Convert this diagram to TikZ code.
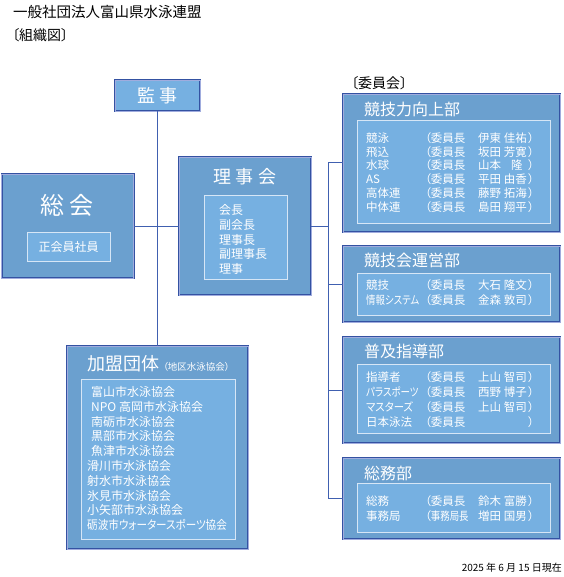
\documentclass[tikz,border=0pt]{standalone}
\usepackage{fontspec}
\setmainfont{Noto Sans CJK JP}[RawFeature=+palt]
\usepackage{graphicx}
\usepackage{tikz}
\usetikzlibrary{positioning,calc}

\definecolor{boxmid}{RGB}{107,160,207}
\definecolor{boxlight}{RGB}{118,176,225}
\definecolor{bdark}{RGB}{52,82,162}
\definecolor{blav}{RGB}{160,172,222}
\definecolor{iedge}{RGB}{214,230,246}
\definecolor{cline}{RGB}{64,96,176}

% one committee line: field, role, name
\newcommand{\memline}[3]{\makebox[59pt][l]{#1}\makebox[53pt][l]{（#2}\makebox[50pt][l]{#3}）}
\newcommand{\narrow}[2]{\scalebox{#1}[1]{#2}}

\begin{document}
\begin{tikzpicture}[
    x=1pt, y=-1pt,
    outerbox/.style={rectangle, draw=bdark, double=blav, double distance=0.8pt,
                     line width=0.6pt, fill=boxmid, inner sep=0pt},
    innerbox/.style={rectangle, draw=iedge, line width=1pt, fill=boxlight, inner sep=0pt},
    conn/.style={draw=cline, line width=1pt},
    boxtitle/.style={text=white, inner sep=0pt, font=\fontsize{16}{18}\selectfont},
    memtxt/.style={text=white, anchor=west, inner sep=0pt, font=\fontsize{11.5}{14}\selectfont},
  ]
    \useasboundingbox (0,0) rectangle (563,577);

    % headings
    \node[anchor=west, inner sep=0pt, font=\fontsize{14.5}{17}\selectfont] (head) at (13,12.5) {一般社団法人富山県水泳連盟};
    \node[anchor=west, inner sep=0pt, font=\fontsize{14}{17}\selectfont] (sub) at (12,35) {〔組織図〕};
    \node[anchor=west, inner sep=0pt, font=\fontsize{14}{17}\selectfont] (iinkai) at (351,83) {〔委員会〕};
    \node[anchor=east, inner sep=0pt, font=\fontsize{10}{12}\selectfont] (date) at (562,568) {2025 年 6 月 15 日現在};

    % left side
    \node[outerbox, fill=boxlight, minimum width=85pt, minimum height=31pt] (kanji) at (157.5,95.5) {};
    \node[boxtitle, font=\fontsize{18}{20}\selectfont] (kanjit) at (kanji) {監 事};

    \node[outerbox, minimum width=132pt, minimum height=104pt] (sokai) at (67.5,226) {};
    \node[boxtitle, font=\fontsize{24}{26}\selectfont] (sokait) at (67,205) {総 会};
    \node[innerbox, minimum width=83pt, minimum height=29pt] (seikai) at (68.5,246.5) {};
    \node[memtxt, anchor=center, font=\fontsize{12}{14}\selectfont] (seikait) at (seikai) {正会員社員};

    \node[outerbox, minimum width=132pt, minimum height=138pt] (riji) at (245,226) {};
    \node[boxtitle, font=\fontsize{18}{20}\selectfont] (rijit) at (245,177) {理 事 会};
    \node[innerbox, minimum width=83pt, minimum height=83pt] (rijiin) at (245.5,237.5) {};
    \foreach \r [count=\i] in {会長,副会長,理事長,副理事長,理事}
      \node[memtxt, font=\fontsize{12}{14}\selectfont] (riji\i) at (219,{210+14.8*(\i-1)}) {\r};

    \node[outerbox, minimum width=181pt, minimum height=203pt] (kamei) at (157.5,447.5) {};
    \node[boxtitle, anchor=west, font=\fontsize{18}{20}\selectfont] (kameit) at (87,364)
      {加盟団体\hspace{4pt}{\fontsize{9.5}{11}\selectfont（地区水泳協会）}};
    \node[innerbox, minimum width=154pt, minimum height=160pt] (kameiin) at (158,459) {};
    \foreach \x/\r [count=\i] in {91/富山市水泳協会, 91/NPO 高岡市水泳協会, 91/南砺市水泳協会,
        91/黒部市水泳協会, 91/魚津市水泳協会, 87/滑川市水泳協会, 87/射水市水泳協会,
        87/氷見市水泳協会, 87/小矢部市水泳協会, 87/\narrow{0.88}{砺波市ウォータースポーツ協会}}
      \node[memtxt, font=\fontsize{12}{14}\selectfont] (kamei\i) at (\x,{392+14.8*(\i-1)}) {\r};

    % committees
    \node[outerbox, minimum width=217pt, minimum height=138pt] (c1) at (451.5,163) {};
    \node[boxtitle, anchor=west] (c1t) at (364,109) {競技力向上部};
    \node[innerbox, minimum width=193pt, minimum height=102pt] (c1in) at (453.5,172) {};
    \foreach \a/\b/\c [count=\i] in {競泳/委員長/伊東 佳祐, 飛込/委員長/坂田 芳寛,
        水球/委員長/山本\hspace{10pt}隆, AS/委員長/平田 由香, 高体連/委員長/藤野 拓海,
        中体連/委員長/島田 翔平}
      \node[memtxt] (c1m\i) at (366,{138+13.8*(\i-1)}) {\memline{\a}{\b}{\c}};

    \node[outerbox, minimum width=217pt, minimum height=76pt] (c2) at (451.5,284) {};
    \node[boxtitle, anchor=west] (c2t) at (364,260) {競技会運営部};
    \node[innerbox, minimum width=193pt, minimum height=42pt] (c2in) at (453.5,294) {};
    \foreach \a/\b/\c [count=\i] in {競技/委員長/大石 隆文, \narrow{0.82}{情報システム}/委員長/金森 敦司}
      \node[memtxt] (c2m\i) at (366,{285+15*(\i-1)}) {\memline{\a}{\b}{\c}};

    \node[outerbox, minimum width=217pt, minimum height=106pt] (c3) at (451.5,390) {};
    \node[boxtitle, anchor=west] (c3t) at (364,351) {普及指導部};
    \node[innerbox, minimum width=193pt, minimum height=69pt] (c3in) at (453.5,398.5) {};
    \foreach \a/\b/\c [count=\i] in {指導者/委員長/上山 智司, \narrow{0.82}{パラスポーツ}/委員長/西野 博子,
        \narrow{0.9}{マスターズ}/委員長/上山 智司, 日本泳法/委員長/}
      \node[memtxt] (c3m\i) at (366,{377+15*(\i-1)}) {\memline{\a}{\b}{\c}};

    \node[outerbox, minimum width=217pt, minimum height=81pt] (c4) at (451.5,498.5) {};
    \node[boxtitle, anchor=west] (c4t) at (364,473) {総務部};
    \node[innerbox, minimum width=193pt, minimum height=49pt] (c4in) at (453.5,507.5) {};
    \foreach \a/\b/\c [count=\i] in {総務/委員長/鈴木 富勝, 事務局/\narrow{0.82}{事務局長}/増田 国男}
      \node[memtxt] (c4m\i) at (366,{501+15*(\i-1)}) {\memline{\a}{\b}{\c}};

    % connectors
    \coordinate (bus) at (328,226);
    \draw[conn] (kanji.south) -- (kamei.north);
    \draw[conn] (sokai.east) -- (riji.west);
    \draw[conn] (riji.east) -- (bus);
    \draw[conn] (c1.west -| bus) -- (c4.west -| bus);
    \foreach \c in {c1,c2,c3,c4}
      \draw[conn] (\c.west) -- (\c.west -| bus);
\end{tikzpicture}
\end{document}
